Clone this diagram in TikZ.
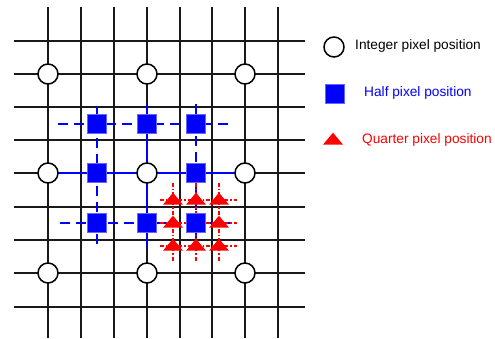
\documentclass[tikz,border=0pt]{standalone}
\usepackage{fontspec}
\setmainfont{Liberation Sans}
\usetikzlibrary{shapes.geometric}
\pgfdeclarelayer{gridlayer}
\pgfdeclarelayer{linelayer}
\pgfsetlayers{gridlayer,linelayer,main}
\tikzset{
  gridline/.style={line width=1.8pt, black!90},
  halfsolid/.style={line width=2pt, blue},
  halfdash/.style={line width=2pt, blue, dash pattern=on 10pt off 6pt},
  quarterline/.style={line width=1.4pt, red, dash pattern=on 4pt off 2pt on 1.2pt off 2pt},
  intpos/.style={circle, draw=black, line width=1.5pt, fill=white, minimum size=20pt, inner sep=0pt},
  halfpos/.style={rectangle, fill=blue, draw=blue!60, line width=0.5pt, minimum size=19pt, inner sep=0pt},
  quarterpos/.style={isosceles triangle, isosceles triangle stretches, shape border rotate=90,
    fill=red, draw=none, minimum width=20pt, minimum height=12pt, inner sep=0pt},
  legendtext/.style={anchor=west, inner sep=0pt, font=\fontsize{13.7pt}{16pt}\selectfont},
}
\begin{document}
\begin{tikzpicture}[x=1pt, y=-1pt]
\useasboundingbox (0,0) rectangle (495,338);

% white page and integer-pel grid
\begin{pgfonlayer}{gridlayer}
\fill[white] (0,0) rectangle (495,338);
\foreach \gx in {48,81,114,147,180,212,245,278}
  \draw[gridline] (\gx,7) -- (\gx,338);
\foreach \gy in {41,74,107,140,173,207,240,273,307}
  \draw[gridline] (14,\gy) -- (305,\gy);
\end{pgfonlayer}

% integer-pel positions
\node[intpos] (i00) at (48,74) {};
\node[intpos] (i01) at (147,74) {};
\node[intpos] (i02) at (245,74) {};
\node[intpos] (i10) at (48,173) {};
\node[intpos] (i11) at (147,173) {};
\node[intpos] (i12) at (245,173) {};
\node[intpos] (i20) at (48,273) {};
\node[intpos] (i21) at (147,273) {};
\node[intpos] (i22) at (245,273) {};

% half-pel positions
\node[halfpos] (h00) at (97,124) {};
\node[halfpos] (h01) at (147,124) {};
\node[halfpos] (h02) at (196,124) {};
\node[halfpos] (h10) at (97,173) {};
\node[halfpos] (h12) at (196,173) {};
\node[halfpos] (h20) at (97,223) {};
\node[halfpos] (h21) at (147,223) {};
\node[halfpos] (h22) at (196,223) {};

% quarter-pel positions around h22
\node[quarterpos] (q00) at (173,200) {};
\node[quarterpos] (q01) at (196,200) {};
\node[quarterpos] (q02) at (219,200) {};
\node[quarterpos] (q10) at (173,223) {};
\node[quarterpos] (q12) at (219,223) {};
\node[quarterpos] (q20) at (173,246) {};
\node[quarterpos] (q21) at (196,246) {};
\node[quarterpos] (q22) at (219,246) {};

% free ends of the half-pel lines
\coordinate (hr0w) at (58,124);  \coordinate (hr0e) at (232,124);
\coordinate (hr2w) at (60,223);  \coordinate (hr2e) at (235,223);
\coordinate (hc0n) at (97,106);  \coordinate (hc0s) at (97,247);
\coordinate (hc1n) at (147,104); \coordinate (hc1s) at (147,247);
\coordinate (hc2n) at (196,104); \coordinate (hc2s) at (196,247);

% free ends of the quarter-pel lines
\coordinate (qc0n) at (173,183); \coordinate (qc0s) at (173,261);
\coordinate (qc1n) at (196,183); \coordinate (qc1s) at (196,261);
\coordinate (qc2n) at (219,183); \coordinate (qc2s) at (219,261);
\coordinate (qr0w) at (160,200); \coordinate (qr0e) at (237,200);
\coordinate (qr1w) at (160,223); \coordinate (qr1e) at (237,223);
\coordinate (qr2w) at (160,246); \coordinate (qr2e) at (237,246);

\begin{pgfonlayer}{linelayer}
% half-pel interpolation lines
\draw[halfdash] (hr0w) -- (hr0e);
\draw[halfdash] (hr2w) -- (hr2e);
\draw[halfsolid] (i10.center) -- (i12.center);
\draw[halfdash] (hc0n) -- (hc0s);
\draw[halfsolid] (hc1n) -- (hc1s);
\draw[halfdash] (hc2n) -- (hc2s);
% quarter-pel interpolation lines
\foreach \k in {0,1,2} {
  \draw[quarterline] (qc\k n) -- (qc\k s);
  \draw[quarterline] (qr\k w) -- (qr\k e);
}
\end{pgfonlayer}

% legend
\node[intpos] (legint) at (334,47) {};
\node[legendtext] (legintt) at (355,46) {Integer pixel position};
\node[halfpos] (leghalf) at (335,94) {};
\node[legendtext, text=blue] (leghalft) at (364,93) {Half pixel position};
\node[quarterpos] (legq) at (333,140) {};
\node[legendtext, text=red] (legqt) at (362,140) {Quarter pixel position};
\end{tikzpicture}
\end{document}
